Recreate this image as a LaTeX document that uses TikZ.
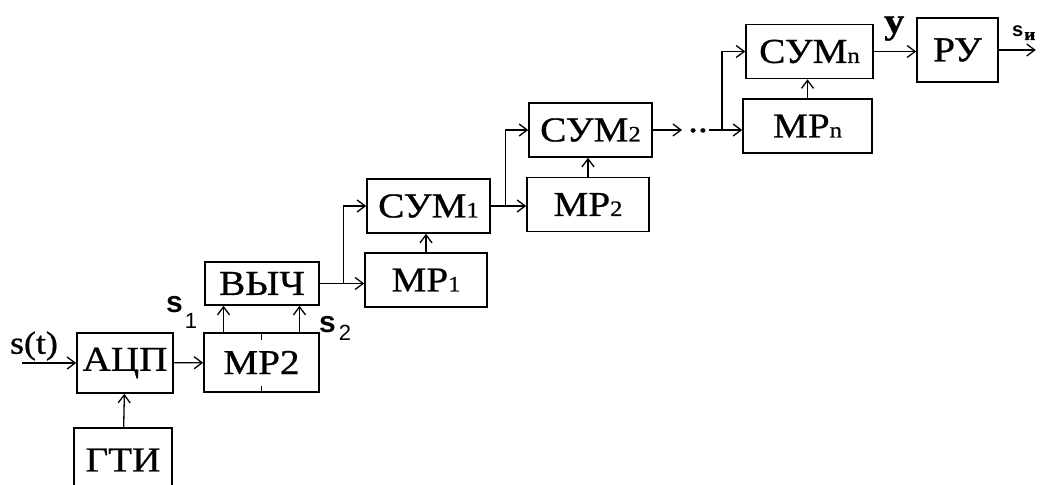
\documentclass[tikz,border=0pt]{standalone}
\usepackage{fontspec}
\setmainfont[FakeStretch=1.12,FakeBold=0.8]{Liberation Serif}
\setsansfont{Liberation Sans}
\usepackage{tikz}
\usetikzlibrary{positioning,arrows.meta}

\newcommand\subn[1]{{\fontsize{22}{24}\selectfont #1}}

\begin{document}
\begin{tikzpicture}[
    x=1pt, y=-1pt,
    base/.style={rectangle, draw, line width=1.6pt, inner sep=0pt,
                 minimum height=54pt, align=center,
                 font=\fontsize{35}{40}\selectfont},
    Bblk/.style={base, minimum width=122pt},
    arr/.style={-{Straight Barb[length=8pt,width=12pt,line width=1.3pt]}, line width=1.3pt},
    lnk/.style={line width=1.3pt},
    sig/.style={font=\sffamily\fontsize{30}{32}\selectfont, inner sep=0pt, anchor=base west},
    lbl/.style={font=\fontsize{32}{36}\selectfont, inner sep=0pt},
]
\useasboundingbox (0,0) rectangle (1048,484);

% left part
\node[base, minimum width=96pt, minimum height=60pt] (adc) at (125,363) {АЦП};
\node[base, minimum width=98pt, minimum height=64pt] (gti) at (123,460) {ГТИ};
\node[base, minimum width=115pt, minimum height=59pt] (mrA) at (261.5,362.5) {МР2};
\node[base, minimum width=114pt, minimum height=43pt] (vych) at (262,283.5) {ВЫЧ};

% staircase of adders
\node[Bblk, minimum width=123pt] (sum1) at (428.5,206) {СУМ\subn{1}};
\node[Bblk] (mr1) at (426,280) {МР\subn{1}};
\node[Bblk, minimum width=123pt] (sum2) at (590.5,130) {СУМ\subn{2}};
\node[Bblk] (mr2) at (588,204.5) {МР\subn{2}};
\node[Bblk, minimum width=127pt] (sumn) at (809.5,51.5) {СУМ\subn{n}};
\node[Bblk, minimum width=129pt] (mrn) at (807.5,126) {МР\subn{n}};
\node[base, minimum width=81pt, minimum height=64pt] (ru) at (957.5,50) {РУ};

% labels
\node[lbl] (st) at (34,346) {s(t)};
\node[sig] (s1) at (166,312) {\textbf{s}\kern2pt\raisebox{-16pt}{\fontsize{22}{24}\selectfont 1}};
\node[sig] (s2) at (319,332) {\textbf{s}\kern3pt\raisebox{-8pt}{\fontsize{22}{24}\selectfont 2}};
\node[font=\bfseries\fontsize{36}{40}\selectfont, inner sep=0pt, anchor=base west] (yl) at (884,33) {у};
\node[sig, font=\sffamily\bfseries\fontsize{20}{22}\selectfont] (sout) at (1012,37)
    {s\kern1pt\raisebox{-3pt}{\rmfamily\fontsize{17}{20}\selectfont и}};
\node[font=\fontsize{35}{40}\selectfont, inner sep=0pt, anchor=base] (gap) at (698,132) {..};

\coordinate (in) at (22,363);
\coordinate (b1) at ([xshift=24pt]vych.east);
\coordinate (b2) at ([xshift=15pt]sum1.east);
\coordinate (b3) at (722,130);
\coordinate (out) at ([xshift=37pt]ru.east);

% marks on MP2
\draw[lnk] (mrA.north) -- ++(0,8);
\draw[lnk] (mrA.south) -- ++(0,-7);

\draw[arr] (in) -- (adc);
\draw[arr] (gti) -- (adc);
\draw[arr] (adc) -- (mrA);
\draw[arr] ([xshift=-38pt]mrA.north) -- ([xshift=-38pt]mrA.north |- vych.south);
\draw[arr] ([xshift=38pt]mrA.north) -- ([xshift=38pt]mrA.north |- vych.south);

\draw[lnk] (vych) -- (b1);
\draw[arr] (b1) -- (b1 -| mr1.west);
\draw[arr] (b1) |- (sum1.west);
\draw[arr] (mr1.north) -- (mr1.north |- sum1.south);

\draw[lnk] (sum1) -- (b2);
\draw[arr] (b2) -- (b2 -| mr2.west);
\draw[arr] (b2) |- (sum2.west);
\draw[arr] (mr2.north) -- (mr2.north |- sum2.south);

\draw[arr, shorten >=6pt] (sum2) -- (sum2 -| gap.west);
\draw[lnk] ([xshift=1pt]gap.east |- b3) -- (b3);
\draw[arr] (b3) -- (b3 -| mrn.west);
\draw[arr] (b3) |- (sumn.west);
\draw[arr] (mrn.north) -- (mrn.north |- sumn.south);

\draw[arr] (sumn) -- (sumn -| ru.west);
\draw[arr] (ru) -- (out);
\end{tikzpicture}
\end{document}
